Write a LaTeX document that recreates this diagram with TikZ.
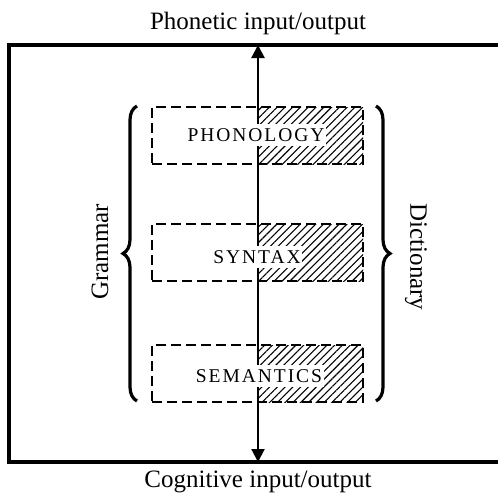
\documentclass[tikz,border=0pt]{standalone}
\usepackage{fontspec}
\setmainfont{Liberation Serif}
\newfontfamily\capsfont[LetterSpace=10]{Liberation Serif}
\usetikzlibrary{arrows.meta,patterns.meta,decorations.pathreplacing}
\begin{document}
\begin{tikzpicture}[x=1pt,y=-1pt,
  frameline/.style={line width=3.2pt},
  levelbox/.style={draw,line width=2.8pt,dash pattern=on 10pt off 5pt,minimum width=211pt,minimum height=57pt,inner sep=0pt},
  levellabel/.style={fill=white,inner xsep=1.5pt,inner ysep=4pt,font=\capsfont\fontsize{19.5}{22}\selectfont},
  hatch/.style={pattern={Lines[angle=45,distance=5.5pt,line width=1.1pt]}},
  bigtext/.style={font=\fontsize{25}{28}\selectfont},
  bracestyle/.style={decorate,decoration={brace,amplitude=14pt},line width=3.2pt},
  mainarrow/.style={line width=2.2pt,{Triangle[width=13pt,length=13pt]}-{Triangle[width=13pt,length=13pt]}}]
\useasboundingbox (0,0) rectangle (498,501);
% frame (open on the right)
\draw[frameline] (498,45) -- (9,45) -- (9,462) -- (498,462);
\coordinate (top) at (258,45);
\coordinate (bot) at (258,462);
% hatched halves
\fill[hatch] (258,107) rectangle (363,164);
\fill[hatch] (258,224) rectangle (363,281);
\fill[hatch] (258,345) rectangle (363,402);
% arrow
\draw[mainarrow] (bot) -- (top);
% boxes
\node[levelbox] (phon) at (257.5,135.5) {};
\node[levelbox] (syn) at (257.5,252.5) {};
\node[levelbox] (sem) at (257.5,373.5) {};
\node[levellabel] (phonl) at (256,135) {PHONOLOGY};
\node[levellabel] (synl) at (257,257) {SYNTAX};
\node[levellabel] (seml) at (259,376) {SEMANTICS};
% braces
\draw[bracestyle] (137,401) -- (137,106);
\draw[bracestyle] (376,106) -- (376,401);
% labels
\node[bigtext,rotate=90] (gram) at (100,252) {Grammar};
\node[bigtext,rotate=-90] (dict) at (416,257) {Dictionary};
\node[bigtext,anchor=base] (phonetic) at (258,29) {Phonetic input/output};
\node[bigtext,anchor=base] (cognitive) at (258,487) {Cognitive input/output};
\end{tikzpicture}
\end{document}
